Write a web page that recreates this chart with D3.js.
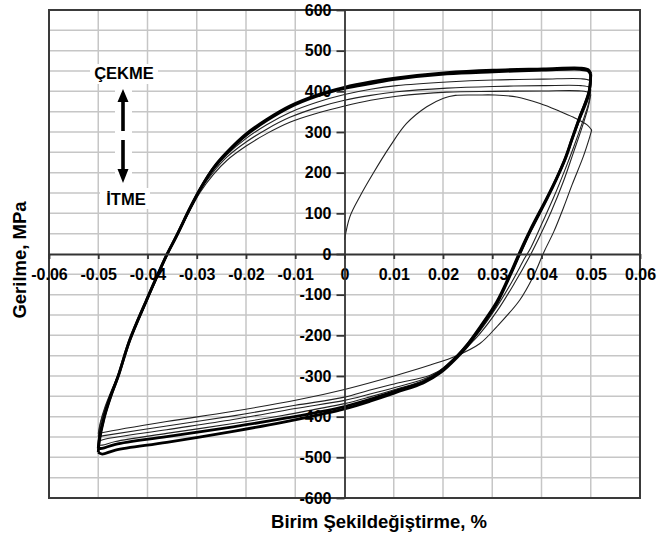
<!DOCTYPE html>
<html><head><meta charset="utf-8">
<script src="https://cdn.jsdelivr.net/npm/d3@7/dist/d3.min.js"></script>
<style>
body{margin:0;background:#fff}
text{font-family:"Liberation Sans",Arial,Helvetica,sans-serif;font-weight:bold;fill:#000}
</style>
</head><body>
<svg id="chart" width="657" height="538"></svg>
<script>
// ---------- tick labels ----------
const xTickValues = [-0.06,-0.05,-0.04,-0.03,-0.02,-0.01,0,0.01,0.02,0.03,0.04,0.05,0.06];
const xTickLabels = ["-0.06","-0.05","-0.04","-0.03","-0.02","-0.01","0","0.01","0.02","0.03","0.04","0.05","0.06"];
const yTickValues = [-600,-500,-400,-300,-200,-100,0,100,200,300,400,500,600];
const yTickLabels = ["-600","-500","-400","-300","-200","-100","0","100","200","300","400","500","600"];
const xGrid = [-0.05,-0.04,-0.03,-0.02,-0.01,0.01,0.02,0.03,0.04,0.05];
const yGrid = [-550,-500,-450,-400,-350,-300,-250,-200,-150,-100,-50,50,100,150,200,250,300,350,400,450,500,550];

// ---------- series: [strain %, stress MPa] ----------
// cycle 1: virgin loading then first unloading
const cycle1Load = [[0,35],[0.0011,92],[0.0031,141],[0.0058,198],[0.0092,264],[0.0126,321],[0.0167,362],[0.0201,383],[0.0225,390],[0.027,391],[0.0305,391],[0.035,386],[0.0397,370],[0.0435,352],[0.0465,336],[0.0492,318],[0.0502,305]];
const cycle1Unload = [[0.0502,305],[0.0498,288],[0.0485,240],[0.0462,170],[0.0445,115],[0.0425,55],[0.0405,5],[0.0383,-56],[0.0356,-113],[0.0309,-179],[0.0275,-220],[0.0228,-250],[0.0174,-273],[0.0106,-298],[0,-333],[-0.0097,-359],[-0.0232,-388],[-0.0361,-412],[-0.049,-439],[-0.05,-442]];
// cycle 2
const cycle2Load = [[-0.05,-442],[-0.0496,-415],[-0.0486,-375],[-0.0472,-332],[-0.0457,-290],[-0.0436,-214],[-0.0402,-118],[-0.0361,-6],[-0.0327,76],[-0.0293,152],[-0.0266,196],[-0.0239,230],[-0.0199,266],[-0.0158,296],[-0.0111,324],[-0.0056,346],[0,364],[0.0053,378],[0.0106,388],[0.0208,398],[0.0302,400],[0.0404,401],[0.048,401],[0.0497,397],[0.05,392]];
const cycle2Unload = [[0.05,392],[0.0495,362],[0.0482,310],[0.0465,250],[0.0445,180],[0.042,105],[0.0395,40],[0.0375,-8],[0.0345,-72],[0.031,-140],[0.0272,-200],[0.0235,-245],[0.0205,-278],[0.0174,-298],[0.0106,-318],[0.005,-335],[0,-352],[-0.01,-372],[-0.0226,-398],[-0.0361,-423],[-0.0485,-446],[-0.05,-449]];
// cycle 3
const cycle3Load = [[-0.05,-449],[-0.0496,-420],[-0.0486,-380],[-0.0472,-335],[-0.0458,-295],[-0.0436,-213],[-0.0402,-116],[-0.0361,-4],[-0.0327,80],[-0.0293,157],[-0.0266,202],[-0.0239,238],[-0.0199,276],[-0.0158,307],[-0.0111,336],[-0.0056,360],[0,378],[0.0053,390],[0.0106,399],[0.0208,408],[0.0302,412],[0.0404,414],[0.048,414],[0.0497,410],[0.05,404]];
const cycle3Unload = [[0.05,404],[0.0496,372],[0.0482,320],[0.0465,262],[0.0447,205],[0.0425,140],[0.0402,78],[0.0378,15],[0.0366,-10],[0.034,-68],[0.0308,-132],[0.0273,-192],[0.0232,-248],[0.0196,-286],[0.016,-308],[0.0106,-327],[0.005,-345],[0,-360],[-0.01,-380],[-0.0226,-407],[-0.0361,-432],[-0.0485,-455],[-0.05,-461]];
// cycle 4
const cycle4Load = [[-0.05,-461],[-0.0497,-440],[-0.0487,-395],[-0.0474,-348],[-0.046,-300],[-0.0436,-212],[-0.0402,-115],[-0.0361,-3],[-0.0327,82],[-0.0293,160],[-0.0266,207],[-0.0239,244],[-0.0199,285],[-0.0158,318],[-0.0111,348],[-0.0056,373],[0,392],[0.0053,405],[0.0106,414],[0.0208,423],[0.0302,428],[0.0404,430],[0.048,431],[0.0497,427],[0.05,420]];
const cycle4Unload = [[0.05,420],[0.0496,385],[0.0478,330],[0.046,275],[0.0445,228],[0.043,183],[0.041,133],[0.0378,55],[0.0358,2],[0.0337,-52],[0.031,-116],[0.0276,-178],[0.0248,-222],[0.0226,-252],[0.0192,-288],[0.016,-311],[0.0106,-332],[0.005,-352],[0,-368],[-0.006,-382],[-0.0126,-397],[-0.0226,-417],[-0.0361,-441],[-0.0465,-461],[-0.0492,-470],[-0.05,-470]];
// stabilised cycles (thick band)
const stableALoad = [[-0.05,-478],[-0.0498,-455],[-0.0488,-400],[-0.0475,-350],[-0.046,-302],[-0.0436,-211],[-0.0402,-113],[-0.0378,-47],[-0.0361,-2],[-0.0341,45],[-0.0313,115],[-0.0293,160],[-0.0266,211],[-0.0239,248],[-0.0199,293],[-0.0158,328],[-0.0111,361],[-0.0056,388],[0,407],[0.0053,419],[0.0106,430],[0.0208,443],[0.0302,448],[0.0404,452],[0.0478,454],[0.0495,450],[0.05,440]];
const stableAUnload = [[0.05,440],[0.0496,395],[0.0478,338],[0.0461,280],[0.0448,235],[0.043,185],[0.0411,138],[0.0377,59],[0.0356,5],[0.0336,-50],[0.0309,-118],[0.0275,-180],[0.0248,-225],[0.0228,-252],[0.0194,-290],[0.016,-315],[0.0106,-336],[0.0052,-357],[0,-375],[-0.005,-388],[-0.0126,-405],[-0.0226,-425],[-0.0361,-449],[-0.0465,-468],[-0.0492,-478],[-0.05,-478]];
const stableBLoad = [[-0.05,-488],[-0.0498,-462],[-0.0488,-403],[-0.0474,-348],[-0.046,-302],[-0.0436,-212],[-0.0402,-114],[-0.0378,-48],[-0.0361,-3],[-0.0341,44],[-0.0313,114],[-0.0293,160],[-0.0266,212],[-0.0239,250],[-0.0199,296],[-0.0158,331],[-0.0111,364],[-0.0056,391],[0,410],[0.0053,423],[0.0106,433],[0.0208,446],[0.0302,452],[0.0404,455],[0.0478,457],[0.0495,453],[0.05,444]];
const stableBUnload = [[0.05,444],[0.0497,402],[0.0479,340],[0.0462,282],[0.0449,236],[0.0431,186],[0.0412,138],[0.0378,58],[0.0357,4],[0.0337,-51],[0.031,-120],[0.0276,-182],[0.0249,-227],[0.0229,-254],[0.0195,-292],[0.016,-317],[0.0106,-340],[0.0052,-362],[0,-381],[-0.005,-395],[-0.0126,-414],[-0.0226,-436],[-0.0361,-463],[-0.0465,-482],[-0.0492,-492],[-0.05,-488]];

const xLabel = "Birim Şekildeğiştirme, %";
const yLabel = "Gerilme, MPa";
const upLabel = "ÇEKME";
const downLabel = "İTME";

// ---------- layout ----------
const svg = d3.select("#chart");
const L = 49, R = 640, T = 10, B = 498;
const x = d3.scaleLinear().domain([-0.06,0.06]).range([L,R]);
const y = d3.scaleLinear().domain([-600,600]).range([B,T]);

svg.append("rect").attr("width",657).attr("height",538).attr("fill","#fff");

// grid
const g = svg.append("g");
g.selectAll(".vg").data(xGrid).join("line")
  .attr("x1",d=>x(d)).attr("x2",d=>x(d)).attr("y1",T).attr("y2",B)
  .attr("stroke","#c6c6c6").attr("stroke-width",1.5);
g.selectAll(".hg").data(yGrid).join("line")
  .attr("x1",L).attr("x2",R).attr("y1",d=>y(d)).attr("y2",d=>y(d))
  .attr("stroke","#c6c6c6").attr("stroke-width",1.5);

// annotation white backgrounds
svg.append("rect").attr("x",90).attr("y",64).attr("width",68).attr("height",20).attr("fill","#fff");
svg.append("rect").attr("x",115).attr("y",85).attr("width",17).attr("height",101).attr("fill","#fff");
svg.append("rect").attr("x",100).attr("y",188).attr("width",50).attr("height",21).attr("fill","#fff");

// frame
svg.append("rect").attr("x",L).attr("y",T).attr("width",R-L).attr("height",B-T)
  .attr("fill","none").attr("stroke","#3a3a3a").attr("stroke-width",2);

// curves
const clip = svg.append("clipPath").attr("id","clp");
clip.append("rect").attr("x",L).attr("y",T).attr("width",R-L).attr("height",B-T);
const line = d3.line().x(d=>x(d[0])).y(d=>y(d[1])).curve(d3.curveCatmullRom.alpha(0.5));
const cg = svg.append("g").attr("clip-path","url(#clp)");

// axes
const xAxis = d3.axisBottom(x).tickValues(xTickValues).tickFormat((d,i)=>xTickLabels[i])
  .tickSizeInner(5).tickSizeOuter(0).tickPadding(10);
const yAxis = d3.axisLeft(y).tickValues(yTickValues).tickFormat((d,i)=>yTickLabels[i])
  .tickSizeInner(8).tickSizeOuter(0).tickPadding(5);
const gx = svg.append("g").attr("transform",`translate(0,${y(0)})`).call(xAxis);
const gy = svg.append("g").attr("transform",`translate(${x(0)},0)`).call(yAxis);
[gx,gy].forEach(a=>{
  a.select(".domain").attr("stroke","#333").attr("stroke-width",1.8);
  a.selectAll(".tick line").attr("stroke","#333").attr("stroke-width",1.8);
  a.selectAll(".tick text").attr("font-size",16).attr("font-weight","bold")
    .attr("font-family","'Liberation Sans',Arial,sans-serif").attr("fill","#000");
});

const thin = [cycle1Load,cycle1Unload,cycle2Load,cycle2Unload,cycle3Load,cycle3Unload,cycle4Load,cycle4Unload];
const thick = [stableALoad,stableAUnload,stableBLoad,stableBUnload];
cg.selectAll(".thin").data(thin).join("path").attr("d",line)
  .attr("fill","none").attr("stroke","#222").attr("stroke-width",1.1);
cg.selectAll(".thick").data(thick).join("path").attr("d",line)
  .attr("fill","none").attr("stroke","#000").attr("stroke-width",2.8).attr("stroke-linejoin","round");

// axis titles
svg.append("text").attr("x",379).attr("y",528).attr("text-anchor","middle")
  .attr("font-size",18.5).text(xLabel);
svg.append("text").attr("transform","translate(26,260) rotate(-90)").attr("text-anchor","middle")
  .attr("font-size",18.5).text(yLabel);

// annotation
svg.append("text").attr("x",124).attr("y",79).attr("text-anchor","middle").attr("font-size",16.5).text(upLabel);
svg.append("text").attr("x",126).attr("y",205).attr("text-anchor","middle").attr("font-size",16.5).text(downLabel);
svg.append("path").attr("d","M123,89 L128.5,102 L124.8,102 L124.8,131 L121.2,131 L121.2,102 L117.5,102 Z").attr("fill","#000");
svg.append("path").attr("d","M123,183 L128.5,169 L124.8,169 L124.8,140 L121.2,140 L121.2,169 L117.5,169 Z").attr("fill","#000");
</script>
</body></html>
